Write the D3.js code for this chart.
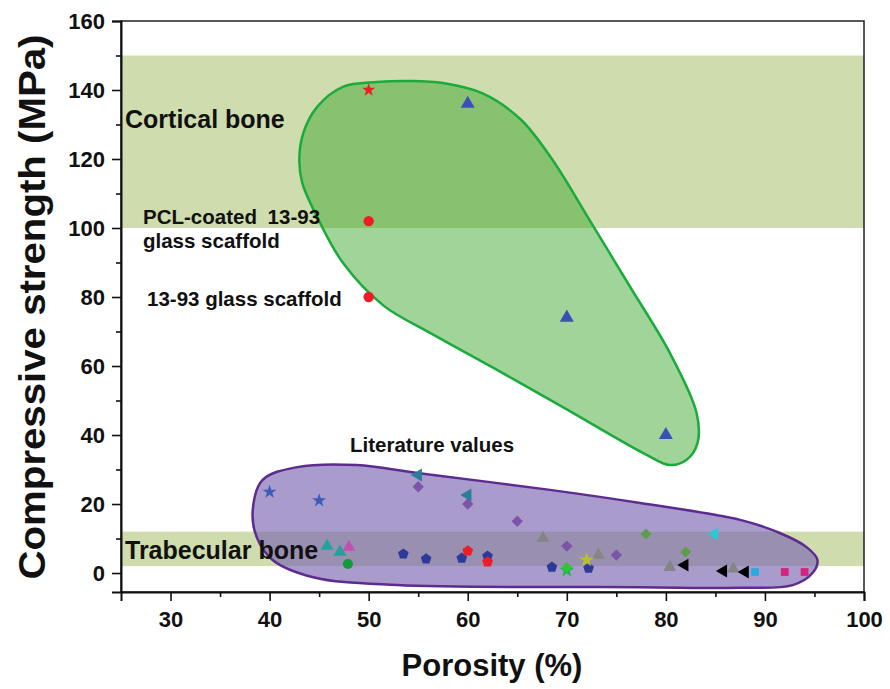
<!DOCTYPE html>
<html>
<head>
<meta charset="utf-8">
<script src="https://cdn.jsdelivr.net/npm/d3@7"></script>
<style>
  body { margin: 0; background: #fff; }
  svg text { font-family: "Liberation Sans", Arial, sans-serif; font-weight: bold; }
</style>
</head>
<body>
<svg id="chart" width="890" height="689"></svg>
<script>
// ---- data (porosity %, compressive strength MPa) ----
const xTicks = [30, 40, 50, 60, 70, 80, 90, 100];
const xMinor = [35, 45, 55, 65, 75, 85, 95];
const yTicks = [0, 20, 40, 60, 80, 100, 120, 140, 160];
const yMinor = [10, 30, 50, 70, 90, 110, 130, 150];

const corticalBand = [100, 150];
const trabecularBand = [2, 12];

// outline of the "this work" region (green) and literature region (purple)
const greenHull = [[43.0,119.7],[43.4,127.5],[44.8,135.1],[47.4,140.9],[50.8,142.3],[54.2,142.6],
  [57.5,142.0],[61.5,139.0],[65.3,131.6],[68.5,120.0],[72.3,102.3],[76.4,82.9],[80.4,63.8],[83.1,46.4],
  [83.2,37.7],[82.1,32.8],[80.4,31.3],[78.1,34.2],[69.6,48.1],[63.0,58.8],[56.2,69.6],
  [51.5,77.5],[47.4,89.9],[44.8,103.2],[43.3,113.0]];
const purpleHull = [[38.3,18.3],[39.3,27.0],[42.8,30.7],[48.8,31.3],[54.9,29.0],[68.3,24.1],
  [77.4,20.3],[87.5,15.4],[91.5,11.6],[94.2,7.5],[95.3,3.8],[94.8,0],[92.8,-3.5],[87.5,-4.3],
  [77.4,-4.1],[52.9,-3.5],[44.4,-1.2],[40.3,3.8],[38.7,10.4]];

// this work
const redStar = [[50, 140]];
const redCircles = [[50, 102], [50, 80]];
const blueTriangles = [[60, 136], [70, 74], [80, 40]];

// literature values
const blueStars = [[40, 23.5], [45, 21]];
const tealLeftTriangles = [[55, 28.4], [60, 22.6]];
const purpleDiamonds = [[55, 25], [60, 20], [65, 15], [70, 7.8], [75, 5.2]];
const tealTriangles = [[45.8, 7.8], [47.1, 6.1]];
const magentaTriangles = [[48, 7.5]];
const greenCircles = [[47.9, 2.6]];
const navyPentagons = [[53.5, 5.5], [55.8, 4.1], [59.4, 4.3], [62, 4.9], [68.5, 1.7], [72.2, 1.4]];
const redPentagons = [[60, 6.4], [62, 3.2]];
const grayTriangles = [[67.6, 10.1], [73.2, 5.2], [80.4, 1.7], [86.8, 1.2]];
const greenStars = [[70, 0.8]];
const greenDiamonds = [[70, 1.6]];
const yellowStars = [[72, 3.8]];
const oliveDiamonds = [[78, 11.3], [82, 6.1]];
const cyanLeftTriangles = [[84.9, 11.3]];
const blackLeftTriangles = [[81.9, 2.3], [85.8, 0.6], [88, 0.3]];
const cyanSquares = [[89, 0.3]];
const magentaSquares = [[92, 0.3], [94, 0.3]];

// ---- styles ----
const pentagon = {
  draw(ctx, size) {
    const r = Math.sqrt(size) * 0.66;
    for (let i = 0; i < 5; i++) {
      const a = -Math.PI / 2 + i * 2 * Math.PI / 5;
      i ? ctx.lineTo(r * Math.cos(a), r * Math.sin(a)) : ctx.moveTo(r * Math.cos(a), r * Math.sin(a));
    }
    ctx.closePath();
  }
};

const series = [
  { data: greenStars, type: d3.symbolStar, color: "#22b14c", size: 70 },
  { data: greenDiamonds, type: d3.symbolSquare, rot: 45, color: "#2fc43a", size: 60 },
  { data: blueStars, type: d3.symbolStar, color: "#3b5cb8", size: 60 },
  { data: purpleDiamonds, type: d3.symbolSquare, rot: 45, color: "#7d55a8", size: 64 },
  { data: tealLeftTriangles, type: d3.symbolTriangle, rot: -90, color: "#2b7e9a", size: 72 },
  { data: tealTriangles, type: d3.symbolTriangle, color: "#20a39a", size: 72 },
  { data: magentaTriangles, type: d3.symbolTriangle, color: "#c251b0", size: 72 },
  { data: greenCircles, type: d3.symbolCircle, color: "#139a3a", size: 80 },
  { data: navyPentagons, type: pentagon, color: "#2e3a9a", size: 72 },
  { data: redPentagons, type: pentagon, color: "#ee1c25", size: 72 },
  { data: grayTriangles, type: d3.symbolTriangle, color: "#858585", size: 72 },
  { data: yellowStars, type: d3.symbolStar, color: "#b5c02a", size: 70 },
  { data: oliveDiamonds, type: d3.symbolSquare, rot: 45, color: "#5e9e4a", size: 62 },
  { data: cyanLeftTriangles, type: d3.symbolTriangle, rot: -90, color: "#2ec8d4", size: 72 },
  { data: blackLeftTriangles, type: d3.symbolTriangle, rot: -90, color: "#000000", size: 72 },
  { data: cyanSquares, type: d3.symbolSquare, color: "#29abe2", size: 60 },
  { data: magentaSquares, type: d3.symbolSquare, color: "#d4237a", size: 60 },
  { data: redStar, type: d3.symbolStar, color: "#ee1c25", size: 55 },
  { data: redCircles, type: d3.symbolCircle, color: "#ee1c25", size: 85 },
  { data: blueTriangles, type: d3.symbolTriangle, color: "#3b4fb8", size: 85 }
];

const svg = d3.select("#chart");
const margin = { top: 21, right: 26, bottom: 97, left: 121 };
const W = 890, H = 689;

const x = d3.scaleLinear([25, 100], [margin.left, W - margin.right]);
const y = d3.scaleLinear([-5.5, 160], [H - margin.bottom, margin.top]);

// bands
svg.append("g").selectAll("rect")
  .data([corticalBand, trabecularBand])
  .join("rect")
  .attr("x", x(25)).attr("width", x(100) - x(25))
  .attr("y", d => y(d[1])).attr("height", d => y(d[0]) - y(d[1]))
  .attr("fill", "#cfdcae");

const hullLine = d3.line().x(d => x(d[0])).y(d => y(d[1])).curve(d3.curveCatmullRomClosed.alpha(0.5));

svg.append("path").attr("d", hullLine(greenHull))
  .attr("fill", "rgb(57,165,40)").attr("fill-opacity", 0.48)
  .attr("stroke", "#1aab3c").attr("stroke-width", 2.5);
svg.append("path").attr("d", hullLine(purpleHull))
  .attr("fill", "rgb(125,101,178)").attr("fill-opacity", 0.65)
  .attr("stroke", "#5e2b8f").attr("stroke-width", 2.5);

// annotations
const notes = svg.append("g").attr("fill", "#111");
notes.append("text").attr("x", 125).attr("y", 128).attr("font-size", 25).text("Cortical bone");
notes.append("text").attr("x", 125).attr("y", 559).attr("font-size", 25).text("Trabecular bone");
notes.append("text").attr("x", 143).attr("y", 224).attr("font-size", 20.5).attr("word-spacing", 5).text("PCL-coated 13-93");
notes.append("text").attr("x", 143).attr("y", 248).attr("font-size", 20.5).text("glass scaffold");
notes.append("text").attr("x", 147).attr("y", 306).attr("font-size", 20.5).text("13-93 glass scaffold");
notes.append("text").attr("x", 350).attr("y", 452).attr("font-size", 20.5).text("Literature values");

// points
for (const s of series) {
  svg.append("g").selectAll("path")
    .data(s.data)
    .join("path")
    .attr("transform", d => `translate(${x(d[0])},${y(d[1])}) rotate(${s.rot || 0})`)
    .attr("d", d3.symbol(s.type, s.size))
    .attr("fill", s.color);
}

// frame
svg.append("rect")
  .attr("x", x(25)).attr("y", y(160))
  .attr("width", x(100) - x(25)).attr("height", y(-5.5) - y(160))
  .attr("fill", "none").attr("stroke", "#222").attr("stroke-width", 1.5);

// axes
const gx = svg.append("g").attr("transform", `translate(0,${y(-5.5)})`);
gx.call(d3.axisBottom(x).tickValues(xTicks).tickSize(9).tickPadding(10));
gx.append("g").call(d3.axisBottom(x).tickValues(xMinor).tickSize(5).tickFormat(""))
  .call(g => g.select(".domain").remove());
const gy = svg.append("g").attr("transform", `translate(${x(25)},0)`);
gy.call(d3.axisLeft(y).tickValues(yTicks).tickSize(9).tickPadding(7));
gy.append("g").call(d3.axisLeft(y).tickValues(yMinor).tickSize(5).tickFormat(""))
  .call(g => g.select(".domain").remove());

svg.selectAll(".tick line").attr("stroke", "#111").attr("stroke-width", 1.6);
svg.selectAll(".domain").attr("stroke", "#111").attr("stroke-width", 2);
svg.selectAll(".tick text").attr("font-size", 22).attr("fill", "#111")
  .attr("font-family", "'Liberation Sans', Arial, sans-serif").attr("font-weight", "bold");

// axis titles
svg.append("text")
  .attr("x", 492).attr("y", 676)
  .attr("text-anchor", "middle").attr("font-size", 31).attr("fill", "#111")
  .text("Porosity (%)");
svg.append("text")
  .attr("transform", `translate(45,307) rotate(-90)`)
  .attr("text-anchor", "middle").attr("font-size", 36).attr("fill", "#111")
  .attr("textLength", 545).attr("lengthAdjust", "spacingAndGlyphs")
  .text("Compressive strength (MPa)");
</script>
</body>
</html>
